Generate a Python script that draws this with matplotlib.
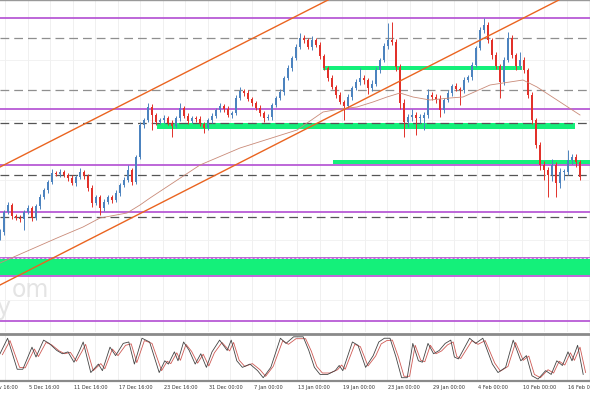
import numpy as np
import matplotlib.pyplot as plt

plt.rcParams['font.family'] = ['DejaVu Sans']

# candles (4h bars), price in chart units
close = [100, 120, 127, 116, 114, 113, 120, 124, 114, 126,
         135, 142, 150, 159, 158, 160, 157, 154, 149, 155,
         160, 156, 144, 129, 135, 124, 130, 135, 132, 139,
         147, 152, 162, 150, 175, 207, 212, 225, 217, 210,
         212, 214, 209, 206, 214, 224, 216, 211, 214, 213,
         208, 204, 212, 216, 222, 226, 223, 217, 219, 234,
         241, 239, 233, 229, 224, 219, 214, 215, 227, 234,
         240, 254, 264, 274, 285, 294, 292, 285, 292, 287,
         276, 264, 254, 245, 237, 230, 226, 235, 244, 250,
         254, 252, 244, 248, 262, 272, 286, 292, 290, 265,
         229, 210, 215, 217, 214, 214, 217, 237, 235, 233,
         222, 232, 239, 246, 243, 242, 252, 255, 267, 284,
         302, 307, 292, 277, 266, 250, 272, 294, 277, 266,
         272, 262, 237, 212, 187, 167, 162, 157, 167, 149,
         160, 160, 172, 175, 170, 155]
first_open = 94

wick_hi = [3, 2, 3, 2, 2, 3, 2, 3, 2, 2,
           3, 2, 2, 4, 2, 3, 2, 2, 3, 2,
           4, 2, 2, 3, 2, 2, 3, 2, 2, 3,
           2, 3, 5, 2, 2, 3, 2, 4, 3, 2,
           2, 3, 2, 3, 2, 5, 2, 3, 2, 2,
           3, 2, 2, 3, 2, 3, 2, 3, 2, 3,
           4, 2, 3, 2, 2, 3, 2, 3, 2, 2,
           3, 2, 3, 2, 3, 5, 3, 2, 4, 2,
           3, 2, 2, 3, 2, 3, 2, 3, 2, 3,
           10, 3, 2, 4, 3, 2, 3, 17, 18, 3,
           3, 4, 3, 6, 3, 4, 3, 6, 3, 3,
           4, 2, 3, 2, 3, 2, 3, 2, 3, 2,
           3, 7, 3, 2, 3, 2, 3, 6, 3, 2,
           8, 3, 2, 3, 2, 3, 4, 3, 6, 3,
           4, 3, 10, 3, 3, 2]
wick_lo = [2, 3, 2, 3, 2, 3, 11, 2, 3, 2,
           3, 2, 3, 2, 2, 3, 2, 3, 2, 3,
           2, 3, 3, 4, 2, 7, 3, 2, 3, 2,
           3, 2, 2, 3, 2, 2, 3, 2, 15, 3,
           2, 3, 2, 11, 2, 3, 2, 3, 2, 3,
           2, 5, 2, 3, 2, 2, 3, 2, 3, 2,
           2, 3, 2, 3, 2, 3, 4, 2, 3, 2,
           2, 3, 2, 3, 2, 2, 3, 2, 3, 2,
           3, 2, 3, 2, 3, 2, 14, 2, 3, 2,
           3, 4, 6, 3, 2, 3, 2, 3, 3, 4,
           6, 15, 5, 4, 17, 5, 12, 3, 3, 4,
           7, 3, 2, 3, 2, 15, 3, 2, 3, 2,
           2, 3, 3, 4, 3, 16, 3, 2, 3, 4,
           3, 3, 3, 4, 3, 5, 10, 22, 6, 14,
           5, 8, 3, 4, 5, 3]

# moving average (bar index, value)
ma_idx = [0, 14.25, 20.75, 25, 31.75, 35, 37.5, 50, 60, 74.25, 80.75, 85,
          89.25, 93.25, 96.75, 100, 103.25, 107.5, 112.5, 115.75, 122.5,
          130.75, 134.25, 139.25, 145]
ma_val = [69, 94, 105, 114, 119, 127, 134, 167, 184, 202, 220, 223,
          225, 230, 235, 239, 235, 232, 234, 235, 247,
          252, 245, 232, 217]

# stochastic oscillator turning points
stoch_idx = [0.0, 1.9, 4.3, 5.7, 8.0, 9.0, 10.9, 12.3, 14.2, 15.6,
             17.0, 18.5, 19.9, 20.8, 22.7, 24.6, 25.6, 27.5, 28.9, 30.8,
             32.2, 33.6, 35.5, 37.4, 39.8, 41.2, 42.1, 43.6, 44.5, 45.9,
             47.3, 48.8, 50.2, 51.6, 53.0, 54.9, 56.8, 57.8, 59.2, 60.6,
             62.5, 64.4, 65.8, 67.7, 70.1, 71.5, 73.4, 75.8, 77.2, 78.6,
             80.0, 81.9, 83.8, 84.8, 85.7, 88.1, 89.5, 91.4, 93.3, 94.7,
             96.1, 97.5, 99.0, 100.4, 101.8, 103.2, 104.6, 105.6, 107.0, 108.4,
             109.8, 111.3, 112.7, 113.6, 114.6, 116.0, 117.4, 118.9, 120.7, 123.1,
             124.5, 126.4, 128.3, 130.2, 131.6, 133.0, 134.5, 136.4, 137.8, 139.2,
             140.6, 142.0, 143.0, 144.4, 145.8]
stoch_k = [58, 91, 25, 25, 72, 51, 87, 80, 65, 58,
           62, 40, 65, 83, 18, 36, 22, 72, 54, 80,
           83, 36, 91, 83, 18, 43, 36, 62, 43, 83,
           65, 36, 58, 29, 62, 87, 65, 87, 43, 29,
           36, 22, 7, 29, 91, 80, 94, 94, 65, 29,
           14, 14, 22, 33, 22, 83, 76, 29, 54, 83,
           91, 91, 51, 7, 7, 80, 43, 40, 80, 58,
           65, 80, 87, 51, 47, 69, 91, 80, 91, 36,
           18, 29, 87, 43, 54, 11, 4, 22, 14, 43,
           33, 62, 43, 76, 14]
stoch_d = [56, 86, 29, 28, 68, 52, 82, 77, 64, 58,
           61, 42, 63, 78, 22, 37, 26, 68, 54, 76,
           79, 39, 86, 80, 22, 42, 37, 60, 44, 78,
           63, 38, 57, 32, 60, 82, 64, 82, 44, 31,
           37, 24, 10, 31, 86, 78, 90, 90, 64, 31,
           17, 17, 24, 34, 25, 78, 73, 32, 53, 79,
           86, 87, 51, 10, 10, 76, 44, 41, 76, 58,
           64, 77, 83, 52, 48, 67, 86, 78, 86, 38,
           21, 31, 82, 44, 53, 14, 7, 24, 17, 42,
           34, 60, 44, 72, 18]

date_labels = ['29 Nov 16:00', '5 Dec 16:00', '11 Dec 16:00', '17 Dec 16:00',
               '23 Dec 16:00', '31 Dec 00:00', '7 Jan 00:00', '13 Jan 00:00',
               '19 Jan 00:00', '23 Jan 00:00', '29 Jan 00:00', '4 Feb 00:00',
               '10 Feb 00:00', '16 Feb 00:00']

# drawn levels and zones
purple_levels = [314, 223, 167, 120, 74, 56, 11]
grey_dashed = [294, 242]
dark_dashed = [209, 157, 115]
green_zones = [(80.75, 130.5, 262, 266), (39.25, 143.75, 203, 209),
               (83.25, 150, 168, 172), (-5, 150, 57, 73)]
channel = [((0, 165), (81.5, 331)), ((0, 47), (140, 332.6))]

fig = plt.figure(figsize=(5.9, 3.93), dpi=100)
ax = fig.add_axes([0, 61 / 393, 1, 332 / 393])
ax2 = fig.add_axes([0, 12 / 393, 1, 47 / 393])

XMAX = 147.5
grid_x = -4.25 + 5.6125 * np.arange(0, 28)

# --- main panel
for gx in grid_x:
    ax.axvline(gx, color='#eeeeee', lw=0.6, zorder=0)
for gy in [272, 212, 152, 92, 32]:
    ax.axhline(gy, color='#f0f0f0', lw=0.6, zorder=0)

for x0, x1, y0, y1 in green_zones:
    ax.fill_between([x0, x1], y0, y1, color='#14f07a', lw=0, zorder=1)

for lv in grey_dashed:
    ax.axhline(lv, color='#8f8f8f', lw=0.9, dashes=(7, 4), zorder=2)
for lv in dark_dashed:
    ax.axhline(lv, color='#555555', lw=0.9, dashes=(7, 4), zorder=2)
for lv in purple_levels:
    ax.axhline(lv, color='#b75ad6', lw=1.3, zorder=2)
ax.axhline(purple_levels[4], color='white', lw=0.5, dashes=(3, 3), zorder=2)

opens = [first_open] + close[:-1]
idx = np.arange(len(close))
o = np.array(opens)
c = np.array(close)
hi = np.maximum(o, c) + np.array(wick_hi)
lo = np.minimum(o, c) - np.array(wick_lo)
cols = np.where(c >= o, '#4c83bf', '#e2312a')
ax.vlines(idx, lo, hi, colors=cols, lw=0.7, zorder=3)
body = np.maximum(np.abs(c - o), 1)
ax.bar(idx, body, bottom=np.minimum(o, c), width=0.55, color=cols, lw=0, zorder=3)

ax.plot(ma_idx, ma_val, color='#c98a78', lw=0.6, zorder=4)
for (xa, ya), (xb, yb) in channel:
    ax.axline((xa, ya), (xb, yb), color='#ea6420', lw=1.0, zorder=4)

ax.text(3, 42, 'om', fontsize=17, color='#e4e4e4', va='center', zorder=0)
ax.text(-1, 24, 'y', fontsize=17, color='#e4e4e4', va='center', zorder=0)

ax.set_xlim(0, XMAX)
ax.set_ylim(0, 332)
ax.set_xticks([])
ax.set_yticks([])
for s in ['left', 'right', 'bottom']:
    ax.spines[s].set_visible(False)
ax.spines['top'].set_color('#999999')
ax.spines['top'].set_linewidth(1.0)

# --- stochastic panel
for gx in grid_x:
    ax2.axvline(gx, color='#eeeeee', lw=0.6, zorder=0)
ax2.plot(np.array(stoch_idx) + 0.6, stoch_d, color='#cf5a55', lw=0.6)
ax2.plot(stoch_idx, stoch_k, color='#444444', lw=0.6)
ax2.set_xlim(0, XMAX)
ax2.set_ylim(0, 100)
ax2.set_xticks([])
ax2.set_yticks([])
for s in ['left', 'right']:
    ax2.spines[s].set_visible(False)
ax2.spines['top'].set_color('#8a8a8a')
ax2.spines['top'].set_linewidth(2.0)
ax2.spines['bottom'].set_color('#8a8a8a')
ax2.spines['bottom'].set_linewidth(1.6)

for k, lab in enumerate(date_labels):
    ax2.text(-4.25 + 11.225 * k + 0.3, -13, lab, fontsize=3.6, color='#333333',
             ha='left', va='center', transform=ax2.transData, clip_on=False)

fig.savefig('out.png', dpi=100)
